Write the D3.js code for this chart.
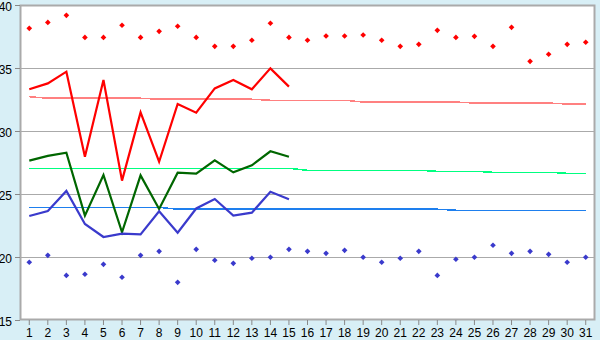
<!DOCTYPE html>
<html><head><meta charset="utf-8">
<script src="https://cdn.jsdelivr.net/npm/d3@7"></script>
<style>
html,body{margin:0;padding:0;background:#d8eff6;}
svg{display:block;}
text{font-family:"Liberation Sans",Arial,sans-serif;font-size:12px;fill:#000;}
</style></head><body>
<svg id="chart" width="600" height="340"></svg>
<script>
const days = d3.range(1, 32);
const yTicks = [15, 20, 25, 30, 35, 40];
const maxPoints = [38.15,38.62,39.18,37.43,37.43,38.39,37.43,37.91,38.31,37.43,36.72,36.72,37.2,38.55,37.43,37.2,37.54,37.54,37.62,37.2,36.72,36.88,37.99,37.43,37.51,36.72,38.23,35.53,36.09,36.88,37.04];
const minPoints = [19.58,20.13,18.54,18.63,19.42,18.39,20.13,20.45,17.99,20.61,19.74,19.5,19.9,19.98,20.61,20.45,20.29,20.53,19.98,19.58,19.9,20.45,18.54,19.82,19.98,20.93,20.29,20.45,20.21,19.58,19.98];
const maxLine = [33.31,33.78,34.71,27.96,34.05,26.06,31.48,27.56,32.14,31.45,33.38,34.05,33.31,34.97,33.52];
const meanLine = [27.65,28.02,28.28,23.28,26.51,21.96,26.48,23.81,26.69,26.62,27.67,26.72,27.28,28.39,27.96];
const minLine = [23.25,23.65,25.24,22.62,21.59,21.85,21.80,23.63,21.93,23.85,24.6,23.28,23.52,25.18,24.58];
const maxNormal = [32.72,32.60,32.60,32.60,32.60,32.60,32.60,32.52,32.52,32.52,32.52,32.52,32.52,32.44,32.44,32.44,32.44,32.44,32.30,32.30,32.30,32.30,32.30,32.30,32.22,32.22,32.22,32.22,32.22,32.14,32.14];
const meanNormal = [27.04,27.04,27.04,27.04,27.04,27.04,27.04,27.04,27.04,27.04,27.04,27.04,27.04,27.04,27.04,26.88,26.88,26.88,26.88,26.88,26.88,26.88,26.80,26.80,26.80,26.72,26.72,26.72,26.72,26.64,26.64];
const minNormal = [23.94,23.94,23.94,23.94,23.94,23.94,23.94,23.94,23.79,23.79,23.79,23.79,23.79,23.79,23.79,23.79,23.79,23.79,23.79,23.79,23.79,23.79,23.79,23.71,23.71,23.71,23.71,23.71,23.71,23.71,23.71];

const svg = d3.select("#chart");
const L = 20, R = 595, T = 5, B = 320;
const x = d3.scaleBand().domain(days).range([L, R]);
const xc = d => x(d) + x.bandwidth() / 2;
const y = d3.scaleLinear().domain([15, 40]).range([B, T]);

svg.append("rect").attr("x", L).attr("y", T).attr("width", R - L).attr("height", B - T)
  .attr("fill", "#fff");

// gridlines
svg.append("g").selectAll("line").data(yTicks.filter(v => v > 15 && v < 40)).join("line")
  .attr("x1", L).attr("x2", R).attr("y1", d => Math.round(y(d)) + 0.5).attr("y2", d => Math.round(y(d)) + 0.5)
  .attr("stroke", "#aaaaaa").attr("stroke-width", 1);

// frame
svg.append("rect").attr("x", L + 0.5).attr("y", T + 0.5).attr("width", R - L - 1).attr("height", B - T - 1)
  .attr("fill", "none").attr("stroke", "#aaaaaa").attr("stroke-width", 2);

// axes
const yAxis = d3.axisLeft(y).tickValues(yTicks).tickSize(5).tickPadding(3);
const gy = svg.append("g").attr("transform", `translate(${L},0)`).call(yAxis);
gy.select(".domain").remove();
gy.selectAll(".tick line").attr("stroke", "#888");
gy.selectAll(".tick text").attr("font-family", "Liberation Sans, Arial, sans-serif")
  .attr("font-size", 11.5).attr("dy", "0.42em");

const xAxis = d3.axisBottom(x).tickSize(5).tickPadding(3);
const gx = svg.append("g").attr("transform", `translate(0,${B})`).call(xAxis);
gx.select(".domain").remove();
gx.selectAll(".tick line").attr("stroke", "#888");
gx.selectAll(".tick text").attr("font-family", "Liberation Sans, Arial, sans-serif").attr("font-size", 11.5);

const line = d3.line().x((d, i) => xc(days[i])).y(d => y(d));

function drawLine(data, color, w, crisp) {
  svg.append("path").datum(data).attr("d", line).attr("fill", "none")
    .attr("stroke", color).attr("stroke-width", w)
    .attr("shape-rendering", crisp ? "crispEdges" : "auto");
}
drawLine(maxNormal, "#ff8080", 1.5, true);
drawLine(meanNormal, "#00ff80", 1.5, true);
drawLine(minNormal, "#1e7fee", 1.5, true);
drawLine(maxLine, "#ff0000", 2.2, false);
drawLine(meanLine, "#006600", 2.2, false);
drawLine(minLine, "#3a3acc", 2.2, false);

const sym = d3.symbol().type(d3.symbolSquare).size(16);
function drawPoints(data, color) {
  svg.append("g").selectAll("path").data(data).join("path")
    .attr("d", sym)
    .attr("transform", (d, i) => `translate(${xc(days[i])},${y(d)}) rotate(45)`)
    .attr("fill", color);
}
drawPoints(maxPoints, "#ff0000");
drawPoints(minPoints, "#3a3acc");
</script></body></html>
